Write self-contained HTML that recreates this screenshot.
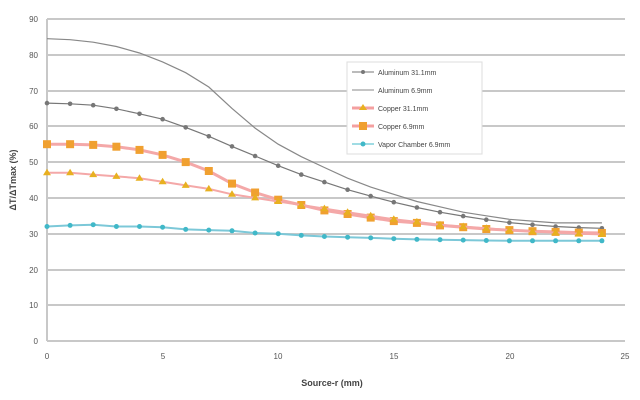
<!DOCTYPE html>
<html><head><meta charset="utf-8"><style>
html,body{margin:0;padding:0;background:#fff;}
svg{display:block;font-family:"Liberation Sans",sans-serif;}
</style></head><body>
<svg width="640" height="400" viewBox="0 0 640 400" xmlns="http://www.w3.org/2000/svg">
<defs>
<marker id="mc" markerUnits="userSpaceOnUse" markerWidth="6" markerHeight="6" refX="3" refY="3"><circle cx="3" cy="3" r="2.3" fill="#777"/></marker>
<marker id="mv" markerUnits="userSpaceOnUse" markerWidth="6" markerHeight="6" refX="3" refY="3"><circle cx="3" cy="3" r="2.5" fill="#40b8c8"/></marker>
<marker id="ms" markerUnits="userSpaceOnUse" markerWidth="10" markerHeight="10" refX="5" refY="5"><rect x="1" y="1" width="8" height="8" fill="#f0a030"/></marker>
<marker id="mt" markerUnits="userSpaceOnUse" markerWidth="9" markerHeight="8" refX="4.5" refY="4.5"><path d="M4.5 0.5 L8.5 7 H0.5Z" fill="#e8b020"/></marker>
</defs>
<rect width="640" height="400" fill="#fff"/>
<g stroke="#c8c8c8" stroke-width="2">
<line x1="47" x2="625" y1="19" y2="19"/><line x1="47" x2="625" y1="55" y2="55"/>
<line x1="47" x2="625" y1="91" y2="91"/><line x1="47" x2="625" y1="126" y2="126"/>
<line x1="47" x2="625" y1="162" y2="162"/><line x1="47" x2="625" y1="198" y2="198"/>
<line x1="47" x2="625" y1="234" y2="234"/><line x1="47" x2="625" y1="270" y2="270"/>
<line x1="47" x2="625" y1="305" y2="305"/><line x1="47" x2="625" y1="341" y2="341"/>
<line x1="47" x2="47" y1="19" y2="341"/>
</g>
<g font-size="8" fill="#555" text-anchor="end">
<text x="38" y="22">90</text><text x="38" y="58">80</text><text x="38" y="94">70</text>
<text x="38" y="129">60</text><text x="38" y="165">50</text><text x="38" y="201">40</text>
<text x="38" y="237">30</text><text x="38" y="273">20</text><text x="38" y="308">10</text>
<text x="38" y="344">0</text>
</g>
<g font-size="8" fill="#555" text-anchor="middle">
<text x="47" y="359">0</text><text x="163" y="359">5</text><text x="278" y="359">10</text>
<text x="394" y="359">15</text><text x="510" y="359">20</text><text x="625" y="359">25</text>
</g>
<text x="332" y="386" font-size="9" font-weight="bold" fill="#444" text-anchor="middle">Source-r (mm)</text>
<text transform="translate(16,180) rotate(-90)" font-size="9" font-weight="bold" fill="#444" text-anchor="middle">ΔT/ΔTmax (%)</text>

<polyline fill="none" stroke="#888" stroke-width="1.2" points="47,38.7 70.1,39.7 93.2,42.2 116.4,46.5 139.5,53 162.6,61.9 185.7,72.7 208.8,87 232,108.4 255.1,128.1 278.2,144.2 301.3,156.7 324.4,167.5 347.6,178.2 370.7,187.1 393.8,194.3 416.9,201.5 440,206.8 463.2,212.2 486.3,215.8 509.4,219.3 532.5,221.1 555.6,222.9 578.8,222.9 601.9,222.9"/>
<polyline fill="none" stroke="#777" stroke-width="1.2" marker-start="url(#mc)" marker-mid="url(#mc)" marker-end="url(#mc)" points="47,103.1 70.1,103.8 93.2,105.2 116.4,108.8 139.5,113.8 162.6,119.2 185.7,127.4 208.8,136.3 232,146.4 255.1,156 278.2,165.7 301.3,174.6 324.4,182.1 347.6,189.7 370.7,196.1 393.8,202.2 416.9,207.5 440,212.2 463.2,216.1 486.3,219.7 509.4,222.6 532.5,224.7 555.6,226.5 578.8,227.6 601.9,228.3"/>
<polyline fill="none" stroke="#f4a8a8" stroke-width="3" marker-start="url(#ms)" marker-mid="url(#ms)" marker-end="url(#ms)" points="47,144.2 70.1,144.2 93.2,144.9 116.4,146.7 139.5,149.9 162.6,154.9 185.7,162.1 208.8,171 232,183.6 255.1,192.5 278.2,199.7 301.3,205 324.4,210.4 347.6,214 370.7,217.6 393.8,221.1 416.9,222.9 440,225.4 463.2,227.2 486.3,229 509.4,230.1 532.5,231.2 555.6,231.9 578.8,232.6 601.9,233"/>
<polyline fill="none" stroke="#f4a8a8" stroke-width="2" marker-start="url(#mt)" marker-mid="url(#mt)" marker-end="url(#mt)" points="47,172.8 70.1,172.8 93.2,174.6 116.4,176.4 139.5,178.2 162.6,181.8 185.7,185.4 208.8,188.9 232,194.3 255.1,197.9 278.2,201.5 301.3,205 324.4,208.6 347.6,212.2 370.7,215.8 393.8,219.3 416.9,221.9 440,224.7 463.2,226.5 486.3,228.3 509.4,230.1 532.5,231.5 555.6,232.6 578.8,233.7 601.9,234.4"/>
<polyline fill="none" stroke="#7cc8d8" stroke-width="2" marker-start="url(#mv)" marker-mid="url(#mv)" marker-end="url(#mv)" points="47,226.5 70.1,225.4 93.2,224.7 116.4,226.5 139.5,226.5 162.6,227.2 185.7,229.4 208.8,230.1 232,230.8 255.1,233 278.2,233.7 301.3,235.4 324.4,236.5 347.6,237.2 370.7,237.9 393.8,238.7 416.9,239.4 440,239.7 463.2,240.1 486.3,240.5 509.4,240.8 532.5,240.8 555.6,240.8 578.8,240.8 601.9,240.8"/>

<rect x="347" y="62" width="135" height="92" fill="#fff" stroke="#ddd"/>
<g font-size="7" fill="#444">
<line x1="352" x2="374" y1="72" y2="72" stroke="#777"/><circle cx="363" cy="72" r="2" fill="#777"/>
<text x="378" y="75">Aluminum 31.1mm</text>
<line x1="352" x2="374" y1="90" y2="90" stroke="#888"/>
<text x="378" y="93">Aluminum 6.9mm</text>
<line x1="352" x2="374" y1="108" y2="108" stroke="#f4a0a0" stroke-width="3"/><path d="M363 104 l4 6 h-8z" fill="#e8b020"/>
<text x="378" y="111">Copper 31.1mm</text>
<line x1="352" x2="374" y1="126" y2="126" stroke="#f4a0a0" stroke-width="3"/><rect x="359" y="122" width="8" height="8" fill="#f0a030"/>
<text x="378" y="129">Copper 6.9mm</text>
<line x1="352" x2="374" y1="144" y2="144" stroke="#40b8c8"/><circle cx="363" cy="144" r="2.5" fill="#40b8c8"/>
<text x="378" y="147">Vapor Chamber 6.9mm</text>
</g>
</svg>
</body></html>
